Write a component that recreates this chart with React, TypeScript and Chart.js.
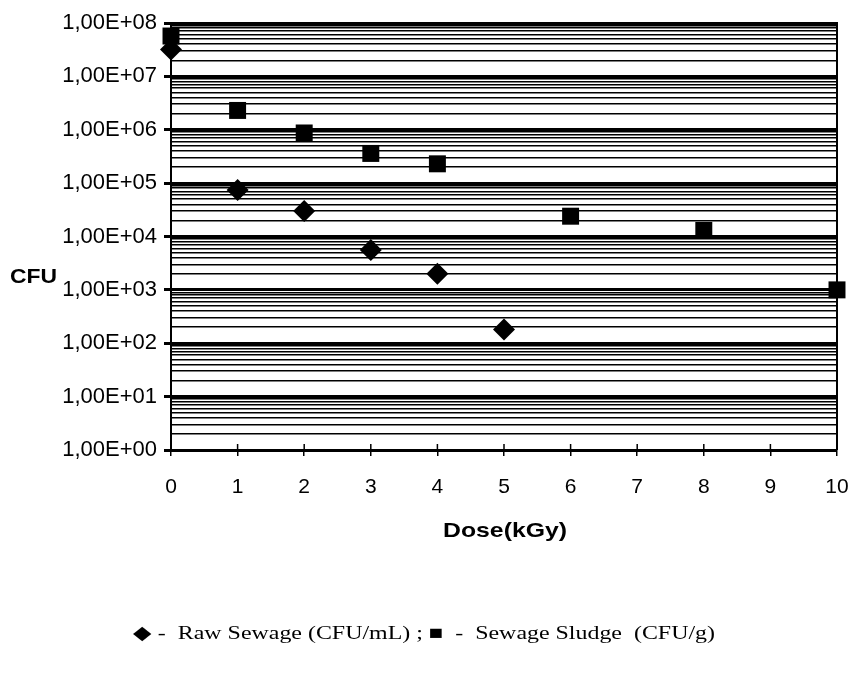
import React, { useEffect, useRef } from 'react';
import { Chart, registerables } from 'chart.js';

Chart.register(...registerables);

// ---- data ----
const rawDoses = [0, 1, 2, 3, 4, 5];
const rawCfu = [3.2e7, 7.4e4, 3.0e4, 5.6e3, 2.0e3, 1.8e2];
const sludgeDoses = [0, 1, 2, 3, 4, 6, 8, 10];
const sludgeCfu = [5.7e7, 2.3e6, 8.7e5, 3.6e5, 2.3e5, 2.4e4, 1.3e4, 1.0e3];
const xTickValues = [0, 1, 2, 3, 4, 5, 6, 7, 8, 9, 10];
const yDecadeExponents = [0, 1, 2, 3, 4, 5, 6, 7, 8];
const yMinorMultipliers = [1, 2, 3, 4, 5, 6, 7, 8, 9];
const yTitle = 'CFU';
const xTitle = 'Dose(kGy)';
const legendText = '\u25C6 -  Raw Sewage (CFU/mL) ; \u25A0  -  Sewage Sludge  (CFU/g)';

const SANS = "'Liberation Sans', Arial, Helvetica, sans-serif";
const SERIF = "'Liberation Serif', 'Times New Roman', serif";

const isDecade = (v: number) => {
  const l = Math.log10(v);
  return Math.abs(l - Math.round(l)) < 1e-9;
};

const fmtTick = (v: number) => {
  const e = Math.round(Math.log10(v));
  return '1,00E+' + String(e).padStart(2, '0');
};

const drawStretched = (
  ctx: CanvasRenderingContext2D,
  text: string,
  x: number,
  y: number,
  targetWidth: number,
  align: 'left' | 'center'
) => {
  const w = ctx.measureText(text).width;
  const sx = targetWidth / w;
  ctx.save();
  const left = align === 'center' ? x - targetWidth / 2 : x;
  ctx.translate(left, y);
  ctx.scale(sx, 1);
  ctx.textAlign = 'left';
  ctx.textBaseline = 'middle';
  ctx.fillText(text, 0, 0);
  ctx.restore();
};

const decorPlugin = {
  id: 'decor',
  afterDraw(chart: any) {
    const { ctx, chartArea } = chart;
    ctx.save();
    ctx.strokeStyle = '#000';
    ctx.lineWidth = 2;
    ctx.beginPath();
    ctx.moveTo(chartArea.left, chartArea.top);
    ctx.lineTo(chartArea.right, chartArea.top);
    ctx.lineTo(chartArea.right, chartArea.bottom);
    ctx.stroke();
    // x tick marks extending into plot
    const xs = chart.scales.x;
    ctx.lineWidth = 1.5;
    ctx.beginPath();
    xTickValues.forEach((v) => {
      const px = xs.getPixelForValue(v);
      ctx.moveTo(px, chartArea.bottom);
      ctx.lineTo(px, chartArea.bottom - 6);
    });
    ctx.stroke();

    ctx.fillStyle = '#000';
    ctx.font = `bold 21px ${SANS}`;
    drawStretched(ctx, yTitle, 10, 277, 47, 'left');
    drawStretched(ctx, xTitle, (chartArea.left + chartArea.right) / 2 + 1, 531, 124, 'center');

    ctx.font = `19px ${SERIF}`;
    drawStretched(ctx, legendText, 133, 634, 582, 'left');
    ctx.restore();
  },
};

export default function App() {
  const canvasRef = useRef<HTMLCanvasElement | null>(null);

  useEffect(() => {
    if (!canvasRef.current) return;
    const chart = new Chart(canvasRef.current, {
      type: 'scatter',
      data: {
        datasets: [
          {
            label: 'Sewage Sludge (CFU/g)',
            data: sludgeDoses.map((d, i) => ({ x: d, y: sludgeCfu[i] })),
            pointStyle: 'rect',
            pointRadius: 12,
            backgroundColor: '#000',
            borderColor: '#000',
            borderWidth: 0,
            clip: false,
            order: 0,
          },
          {
            label: 'Raw Sewage (CFU/mL)',
            data: rawDoses.map((d, i) => ({ x: d, y: rawCfu[i] })),
            pointStyle: 'rectRot',
            pointRadius: 11,
            backgroundColor: '#000',
            borderColor: '#000',
            borderWidth: 0,
            clip: false,
            order: 1,
          },
        ],
      },
      options: {
        animation: false,
        responsive: true,
        maintainAspectRatio: false,
        layout: { padding: { top: 23, right: 16, left: 0, bottom: 0 } },
        plugins: {
          legend: { display: false },
          tooltip: { enabled: false },
          title: { display: false },
        },
        scales: {
          x: {
            type: 'linear',
            min: 0,
            max: 10,
            afterBuildTicks: (scale: any) => {
              scale.ticks = xTickValues.map((v) => ({ value: v }));
            },
            afterFit: (scale: any) => {
              scale.height = 223;
              scale.paddingLeft = 0;
              scale.paddingRight = 0;
            },
            ticks: {
              color: '#000',
              font: { family: SANS, size: 21 },
              padding: 19,
              autoSkip: false,
              maxRotation: 0,
            },
            grid: {
              drawOnChartArea: false,
              drawTicks: true,
              tickLength: 6,
              color: '#000',
              lineWidth: 1.5,
            },
            border: { display: true, color: '#000', width: 2 },
          },
          y: {
            type: 'logarithmic',
            min: 1,
            max: 1e8,
            afterBuildTicks: (scale: any) => {
              const t: { value: number }[] = [];
              yDecadeExponents.forEach((e) => {
                if (e === 8) {
                  t.push({ value: Math.pow(10, e) });
                } else {
                  yMinorMultipliers.forEach((m) => t.push({ value: m * Math.pow(10, e) }));
                }
              });
              scale.ticks = t;
            },
            afterFit: (scale: any) => {
              scale.width = 171;
              scale.paddingTop = 0;
              scale.paddingBottom = 0;
            },
            ticks: {
              color: '#000',
              font: { family: SANS, size: 22 },
              padding: 7,
              autoSkip: false,
              callback: (v: any) => (isDecade(Number(v)) ? fmtTick(Number(v)) : ''),
            },
            grid: {
              color: '#000',
              lineWidth: (c: any) => (c.tick && isDecade(c.tick.value) ? 3 : 1.6),
              tickColor: (c: any) =>
                c.tick && isDecade(c.tick.value) ? '#000' : 'rgba(0,0,0,0)',
              tickLength: 7,
              drawTicks: true,
            },
            border: { display: true, color: '#000', width: 2 },
          },
        },
      },
      plugins: [decorPlugin],
    } as any);
    return () => chart.destroy();
  }, []);

  return (
    <div
      style={{
        position: 'fixed',
        left: 0,
        top: 0,
        width: 853,
        height: 673,
        background: '#fff',
      }}
    >
      <canvas ref={canvasRef} />
    </div>
  );
}
